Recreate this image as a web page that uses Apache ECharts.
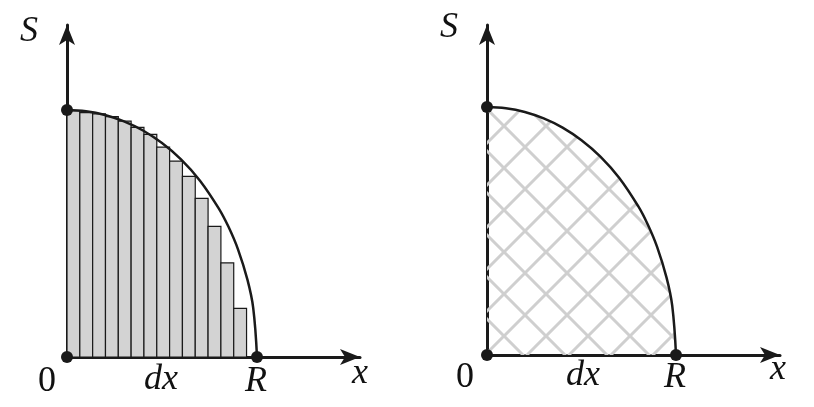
<!DOCTYPE html>
<html>
<head>
<meta charset="utf-8">
<script src="https://cdn.jsdelivr.net/npm/echarts@6/dist/echarts.min.js"></script>
<style>html,body{margin:0;padding:0;background:#fff}#c{width:814px;height:407px}</style>
</head>
<body>
<div id="c"></div>
<script>
// curve S(x) (R = 1, S(0) = 1)
const CURVE_X = [0, 0.1, 0.2, 0.3, 0.4, 0.5, 0.6, 0.7, 0.8, 0.85, 0.9, 0.95, 0.98, 1];
const CURVE_S = [1, 0.995, 0.98, 0.954, 0.917, 0.866, 0.8, 0.714, 0.6, 0.527, 0.436, 0.312, 0.199, 0];
// strip heights (14 strips of width dx)
const BAR_HEIGHTS = [0.997, 0.989, 0.984, 0.973, 0.955, 0.930, 0.901, 0.850, 0.793, 0.731, 0.642, 0.529, 0.381, 0.197];
const BAR_WIDTH = 0.0675;
const POINTS = [[0, 0], [0, 1], [1, 0]];

const curve = CURVE_X.map((x, i) => [x, CURVE_S[i]]);
const bars = BAR_HEIGHTS.map((h, i) => [i * BAR_WIDTH, (i + 1) * BAR_WIDTH, h]);

// hatch pattern for the right panel
const pat = document.createElement('canvas');
pat.width = 42; pat.height = 42;
const g = pat.getContext('2d');
g.strokeStyle = '#cfcfcf'; g.lineWidth = 3;
g.beginPath();
g.moveTo(0, 0); g.lineTo(42, 42);
g.moveTo(42, 0); g.lineTo(0, 42);
g.stroke();

const AXIS_LINE = { lineStyle: { color: '#1a1a1a', width: 3 }, symbol: ['none', 'arrow'], symbolSize: [12, 20], onZero: false };
function axis(max, idx) {
  return { type: 'value', min: 0, max: max, gridIndex: idx, axisLine: AXIS_LINE,
    axisTick: { show: false }, axisLabel: { show: false }, splitLine: { show: false } };
}
const TXT = { fontFamily: "'Liberation Serif', 'DejaVu Serif', serif", fontSize: 36, fill: '#111' };
function label(text, x, y, italic) {
  return { type: 'text', left: x, top: y, style: Object.assign({ text: text, fontStyle: italic ? 'italic' : 'normal' }, TXT) };
}

const chart = echarts.init(document.getElementById('c'));
chart.setOption({
  animation: false,
  grid: [
    { left: 67, top: 25, width: 293, height: 332 },
    { left: 487, top: 25, width: 293, height: 330 }
  ],
  xAxis: [axis(293 / 190, 0), axis(293 / 189, 1)],
  yAxis: [axis(332 / 247, 0), axis(330 / 248, 1)],
  graphic: [
    label('S', 20, 14, true), label('0', 38, 364), label('dx', 144, 362, true),
    label('R', 245, 364, true), label('x', 352, 356, true),
    label('S', 440, 10, true), label('0', 456, 360), label('dx', 566, 358, true),
    label('R', 664, 360, true), label('x', 770, 352, true)
  ],
  series: [
    {
      type: 'custom', xAxisIndex: 0, yAxisIndex: 0, data: bars, z: 2,
      renderItem: function (params, api) {
        const p0 = api.coord([api.value(0), 0]);
        const p1 = api.coord([api.value(1), api.value(2)]);
        return { type: 'rect', shape: { x: p0[0], y: p1[1], width: p1[0] - p0[0], height: p0[1] - p1[1] },
          style: { fill: '#d3d3d3', stroke: '#1a1a1a', lineWidth: 1.2 } };
      }
    },
    { type: 'line', xAxisIndex: 0, yAxisIndex: 0, data: curve, smooth: 0.4, showSymbol: false, z: 3,
      lineStyle: { color: '#1a1a1a', width: 2.5 } },
    { type: 'line', xAxisIndex: 1, yAxisIndex: 1, data: curve, smooth: 0.4, showSymbol: false, z: 3,
      lineStyle: { color: '#1a1a1a', width: 2.5 },
      areaStyle: { color: { image: pat, repeat: 'repeat' }, opacity: 1 } },
    { type: 'scatter', xAxisIndex: 0, yAxisIndex: 0, data: POINTS, symbolSize: 12, z: 5, itemStyle: { color: '#1a1a1a', opacity: 1 } },
    { type: 'scatter', xAxisIndex: 1, yAxisIndex: 1, data: POINTS, symbolSize: 12, z: 5, itemStyle: { color: '#1a1a1a', opacity: 1 } }
  ]
});
</script>
</body>
</html>
